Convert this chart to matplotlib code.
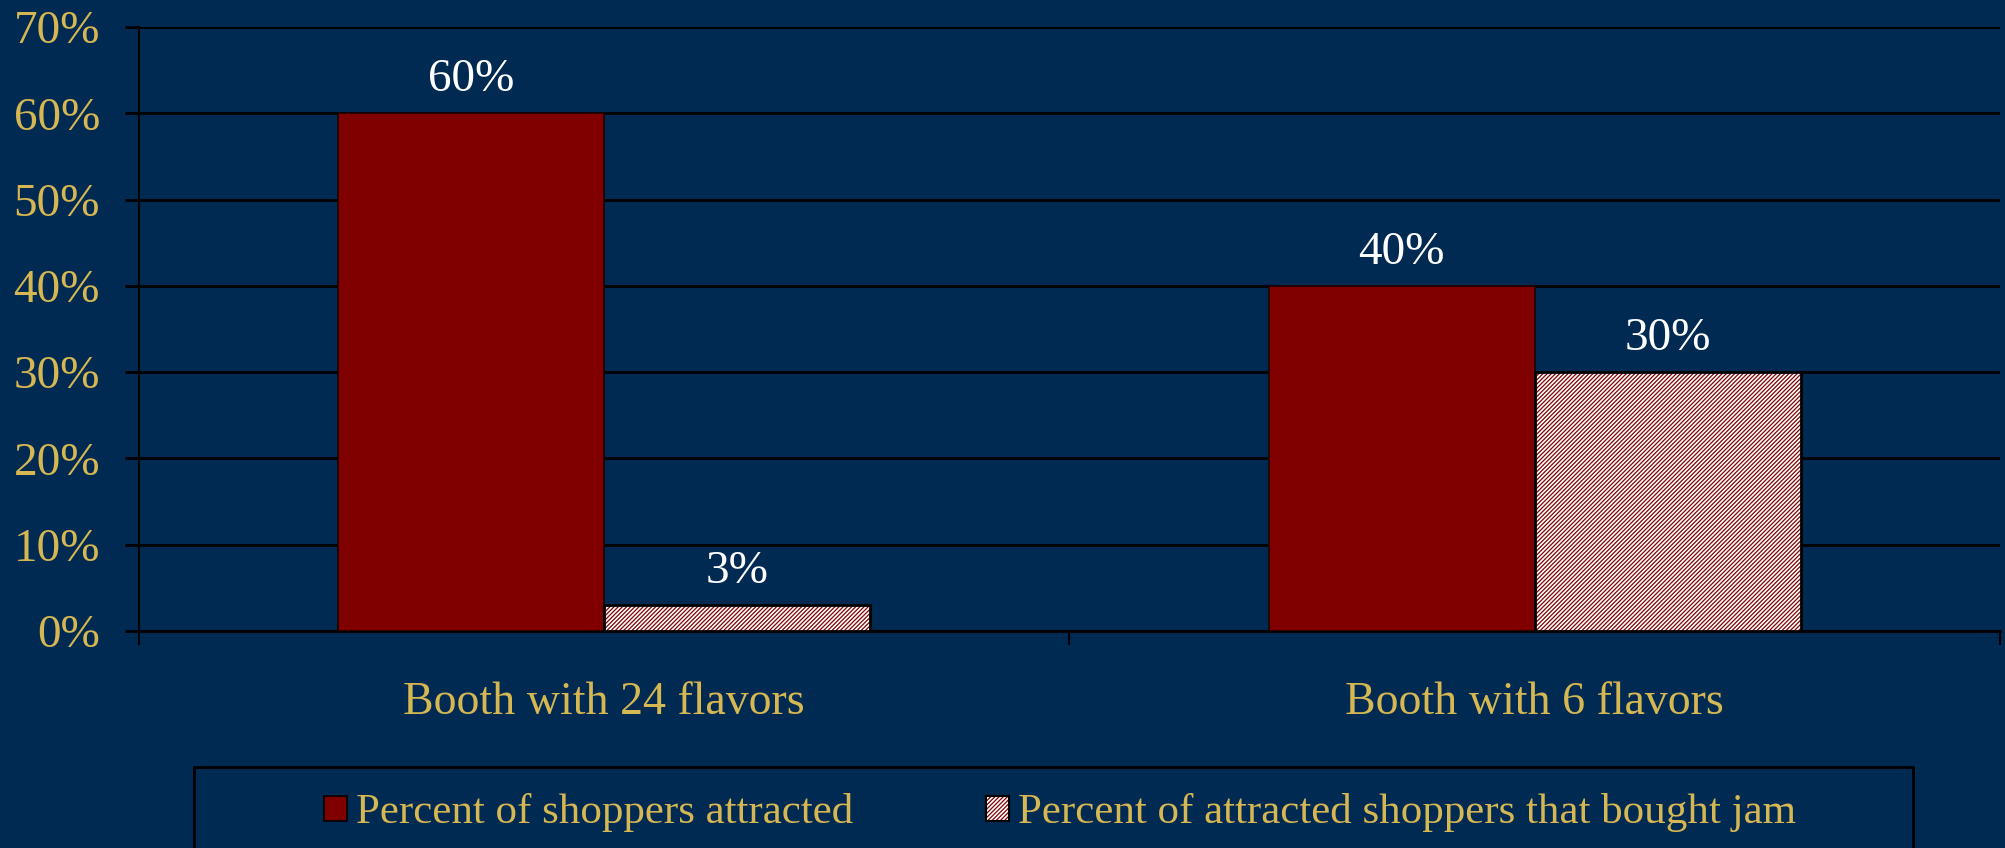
import numpy as np
import matplotlib
matplotlib.use("Agg")
import matplotlib.pyplot as plt
from matplotlib.patches import Patch, Rectangle

categories = ["Booth with 24 flavors", "Booth with 6 flavors"]
attracted = [60, 40]
bought = [3, 30]
series_names = ["Percent of shoppers attracted",
                "Percent of attracted shoppers that bought jam"]
yticks = [0, 10, 20, 30, 40, 50, 60, 70]

bg = "#002a52"
gold = "#d6b752"
red = "#800000"

plt.rcParams['font.family'] = ['Liberation Serif', 'DejaVu Serif']
plt.rcParams['hatch.linewidth'] = 0.9

fig = plt.figure(figsize=(20.06, 8.48), dpi=100, facecolor=bg)
ax = fig.add_axes([139/2006, 1-631/848, (2000-139)/2006, (631-27)/848])
ax.set_facecolor(bg)

x = np.arange(len(categories))
w = 0.2857
ax.bar(x - w/2, attracted, w, color=red, edgecolor="#1a0000", linewidth=1.2, zorder=3)
ax.bar(x + w/2, bought, w, color="white", edgecolor=red, hatch="////////", linewidth=0, zorder=3)
ax.bar(x + w/2, bought, w, fill=False, edgecolor="black", linewidth=2, zorder=4)

for xs, vals in [(x - w/2, attracted), (x + w/2, bought)]:
    for xi, v in zip(xs, vals):
        ax.annotate(f"{v}%", (xi, v), xytext=(0, 24), textcoords="offset points",
                    ha="center", va="center", color="white", fontsize=34)

ax.set_xlim(-0.5, 1.5)
ax.set_ylim(0, 70)
ax.set_yticks(yticks)
ax.set_yticklabels([f"{t}%" for t in yticks])
ax.yaxis.grid(True, color="black", linewidth=2, zorder=0)
ax.set_axisbelow(True)

ax.set_xticks([-0.5, 0.5, 1.5])
ax.set_xticklabels([])
ax.set_xticks(x, minor=True)
ax.set_xticklabels(categories, minor=True)
ax.tick_params(axis="x", which="major", length=10, width=1.5, color="black", direction="out")
ax.tick_params(axis="x", which="minor", length=0, pad=36, labelsize=33, labelcolor=gold)
ax.tick_params(axis="y", length=10, width=2, color="black", pad=18, labelsize=34, labelcolor=gold)

for s in ["top", "right"]:
    ax.spines[s].set_visible(False)
ax.spines["left"].set_color("black")
ax.spines["left"].set_linewidth(1.5)
ax.spines["bottom"].set_color("black")
ax.spines["bottom"].set_linewidth(2)

# legend frame
fig.patches.append(Rectangle((194/2006, -0.05), (1913-194)/2006, 0.05 + (848-767)/848,
                             transform=fig.transFigure, facecolor=bg, edgecolor="black",
                             linewidth=2, zorder=0))
handles = [Patch(facecolor=red, edgecolor="black", linewidth=1.2),
           (Patch(facecolor="white", edgecolor=red, hatch="////////", linewidth=0),
            Patch(fill=False, edgecolor="black", linewidth=1.5))]
fig.legend(handles, series_names, loc="center", bbox_to_anchor=(1060/2006, 1-813/848),
           ncol=2, frameon=False, fontsize=31, labelcolor=gold,
           handlelength=0.53, handleheight=0.53, handletextpad=0.2, columnspacing=3.1)

fig.savefig("out.png", dpi=100, facecolor=bg)
